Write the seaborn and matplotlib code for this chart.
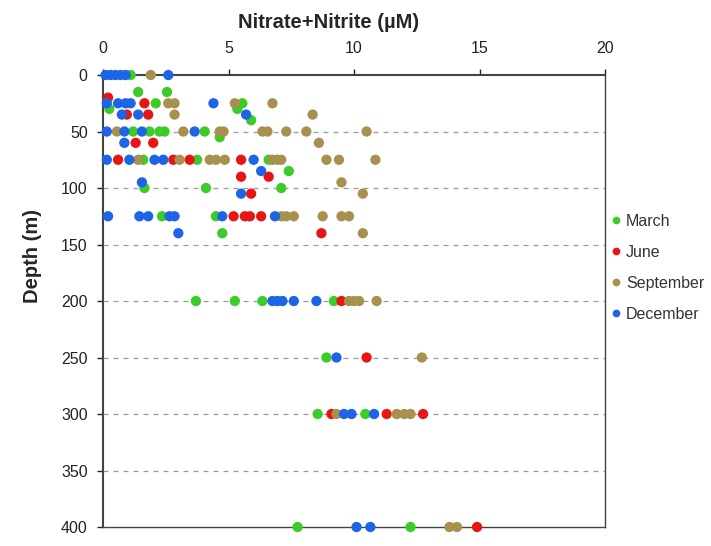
import numpy as np
import pandas as pd
import matplotlib
matplotlib.use("Agg")
import matplotlib.pyplot as plt
import seaborn as sns

# Nitrate+Nitrite profiles by sampling month: (depth m, concentration µM)
march_depth = [0, 15, 15, 25, 25, 30, 30, 40,
               50, 50, 50, 50, 50, 55,
               75, 75, 75, 85, 100, 100, 100,
               125, 125, 140,
               200, 200, 200, 200, 250, 300, 300, 400, 400]
march_no3 = [1.1, 1.4, 2.55, 2.1, 5.55, 0.25, 5.35, 5.9,
             1.2, 1.85, 2.25, 2.45, 4.05, 4.65,
             1.6, 3.75, 6.6, 7.4, 1.65, 4.1, 7.1,
             2.35, 4.5, 4.75,
             3.7, 5.25, 6.35, 9.2, 8.9, 8.55, 10.45, 7.75, 12.25]

june_depth = [20, 25, 35, 35, 60, 60,
              75, 75, 75, 75, 90, 90, 105,
              125, 125, 125, 125, 140,
              200, 250, 300, 300, 300, 400]
june_no3 = [0.2, 1.65, 0.95, 1.8, 1.3, 2.0,
            0.6, 2.8, 3.45, 5.5, 5.5, 6.6, 5.9,
            5.2, 5.65, 5.85, 6.3, 8.7,
            9.5, 10.5, 9.1, 11.3, 12.75, 14.9]

sept_depth = [0, 25, 25, 25, 25, 35, 35,
              50, 50, 50, 50, 50, 50, 50, 50, 50, 60,
              75, 75, 75, 75, 75, 75, 75, 75, 75, 75, 75,
              95, 105,
              125, 125, 125, 125, 125, 125, 140,
              200, 200, 200, 200, 250, 300, 300, 300, 300, 400, 400]
sept_no3 = [1.9, 2.6, 2.85, 5.25, 6.75, 2.85, 8.35,
            0.55, 3.2, 4.65, 4.8, 6.35, 6.55, 7.3, 8.1, 10.5, 8.6,
            1.4, 3.05, 4.25, 4.5, 4.85, 6.75, 6.95, 7.1, 8.9, 9.4, 10.85,
            9.5, 10.35,
            7.1, 7.3, 7.6, 8.75, 9.5, 9.8, 10.35,
            9.8, 10.0, 10.2, 10.9, 12.7, 9.3, 11.7, 12.0, 12.25, 13.8, 14.1]

dec_depth = [0, 0, 0, 0, 0, 0, 25, 25, 25, 25, 25,
             35, 35, 35, 50, 50, 50, 50, 60,
             75, 75, 75, 75, 75, 85, 95, 105,
             125, 125, 125, 125, 125, 125, 125, 140,
             200, 200, 200, 200, 200, 250, 300, 300, 300, 400, 400]
dec_no3 = [0.1, 0.3, 0.5, 0.7, 0.9, 2.6, 0.15, 0.6, 0.9, 1.1, 4.4,
           0.75, 1.4, 5.7, 0.15, 0.85, 1.55, 3.65, 0.85,
           0.15, 1.05, 2.05, 2.4, 6.0, 6.3, 1.55, 5.5,
           0.2, 1.45, 1.8, 2.65, 2.85, 4.75, 6.85, 3.0,
           6.75, 6.95, 7.15, 7.6, 8.5, 9.3, 9.6, 9.9, 10.8, 10.1, 10.65]

months = ["March", "June", "September", "December"]
colors = ["#3ccc2a", "#e81515", "#a8904e", "#1e64e6"]

df = pd.concat([
    pd.DataFrame({"Depth": march_depth, "NO3": march_no3, "Month": "March"}),
    pd.DataFrame({"Depth": june_depth, "NO3": june_no3, "Month": "June"}),
    pd.DataFrame({"Depth": sept_depth, "NO3": sept_no3, "Month": "September"}),
    pd.DataFrame({"Depth": dec_depth, "NO3": dec_no3, "Month": "December"}),
], ignore_index=True)

sns.set_style("white")
plt.rcParams["font.family"] = ["Liberation Sans", "DejaVu Sans"]

fig = plt.figure(figsize=(7.11, 5.46), dpi=100)
ax = fig.add_axes([0.1449, 0.0348, 0.7061, 0.8278])

sns.scatterplot(data=df, x="NO3", y="Depth", hue="Month", hue_order=months,
                palette=colors, s=55, edgecolor="none", linewidth=0,
                ax=ax, zorder=3, legend=True, clip_on=False)

ax.set_xlim(0, 20)
ax.set_ylim(400, 0)
ax.set_xticks([0, 5, 10, 15, 20])
ax.set_yticks(np.arange(0, 401, 50))
ax.xaxis.tick_top()
ax.xaxis.set_label_position("top")
ax.tick_params(axis="both", labelsize=11.5, colors="#222222", length=4,
               width=1, direction="out")
ax.tick_params(axis="x", top=True, bottom=False, pad=10)
ax.tick_params(axis="y", left=True, pad=7)

ax.set_xlabel("Nitrate+Nitrite (µM)", fontsize=14.5, fontweight="bold")
ax.xaxis.set_label_coords(0.45, 1.104)
ax.set_ylabel("Depth (m)", fontsize=14.5, fontweight="bold")
ax.yaxis.set_label_coords(-0.122, 0.6)

for y in np.arange(50, 400, 50):
    ax.axhline(y, color="#9a9a9a", linestyle=(0, (4, 4)), linewidth=0.9, zorder=1)

for side in ["top", "bottom", "left", "right"]:
    ax.spines[side].set_visible(True)
    ax.spines[side].set_color("#444444")
    ax.spines[side].set_linewidth(1.0)
ax.spines["top"].set_linewidth(1.5)
ax.spines["left"].set_linewidth(1.5)

leg = ax.legend(loc="center left", bbox_to_anchor=(1.002, 0.573), frameon=False,
                fontsize=11.5, handletextpad=0.25, labelspacing=1.0,
                markerscale=0.75, borderaxespad=0, borderpad=0.2,
                handlelength=0.8)
for t in leg.get_texts():
    t.set_color("#333333")

fig.savefig("out.png", dpi=100)
